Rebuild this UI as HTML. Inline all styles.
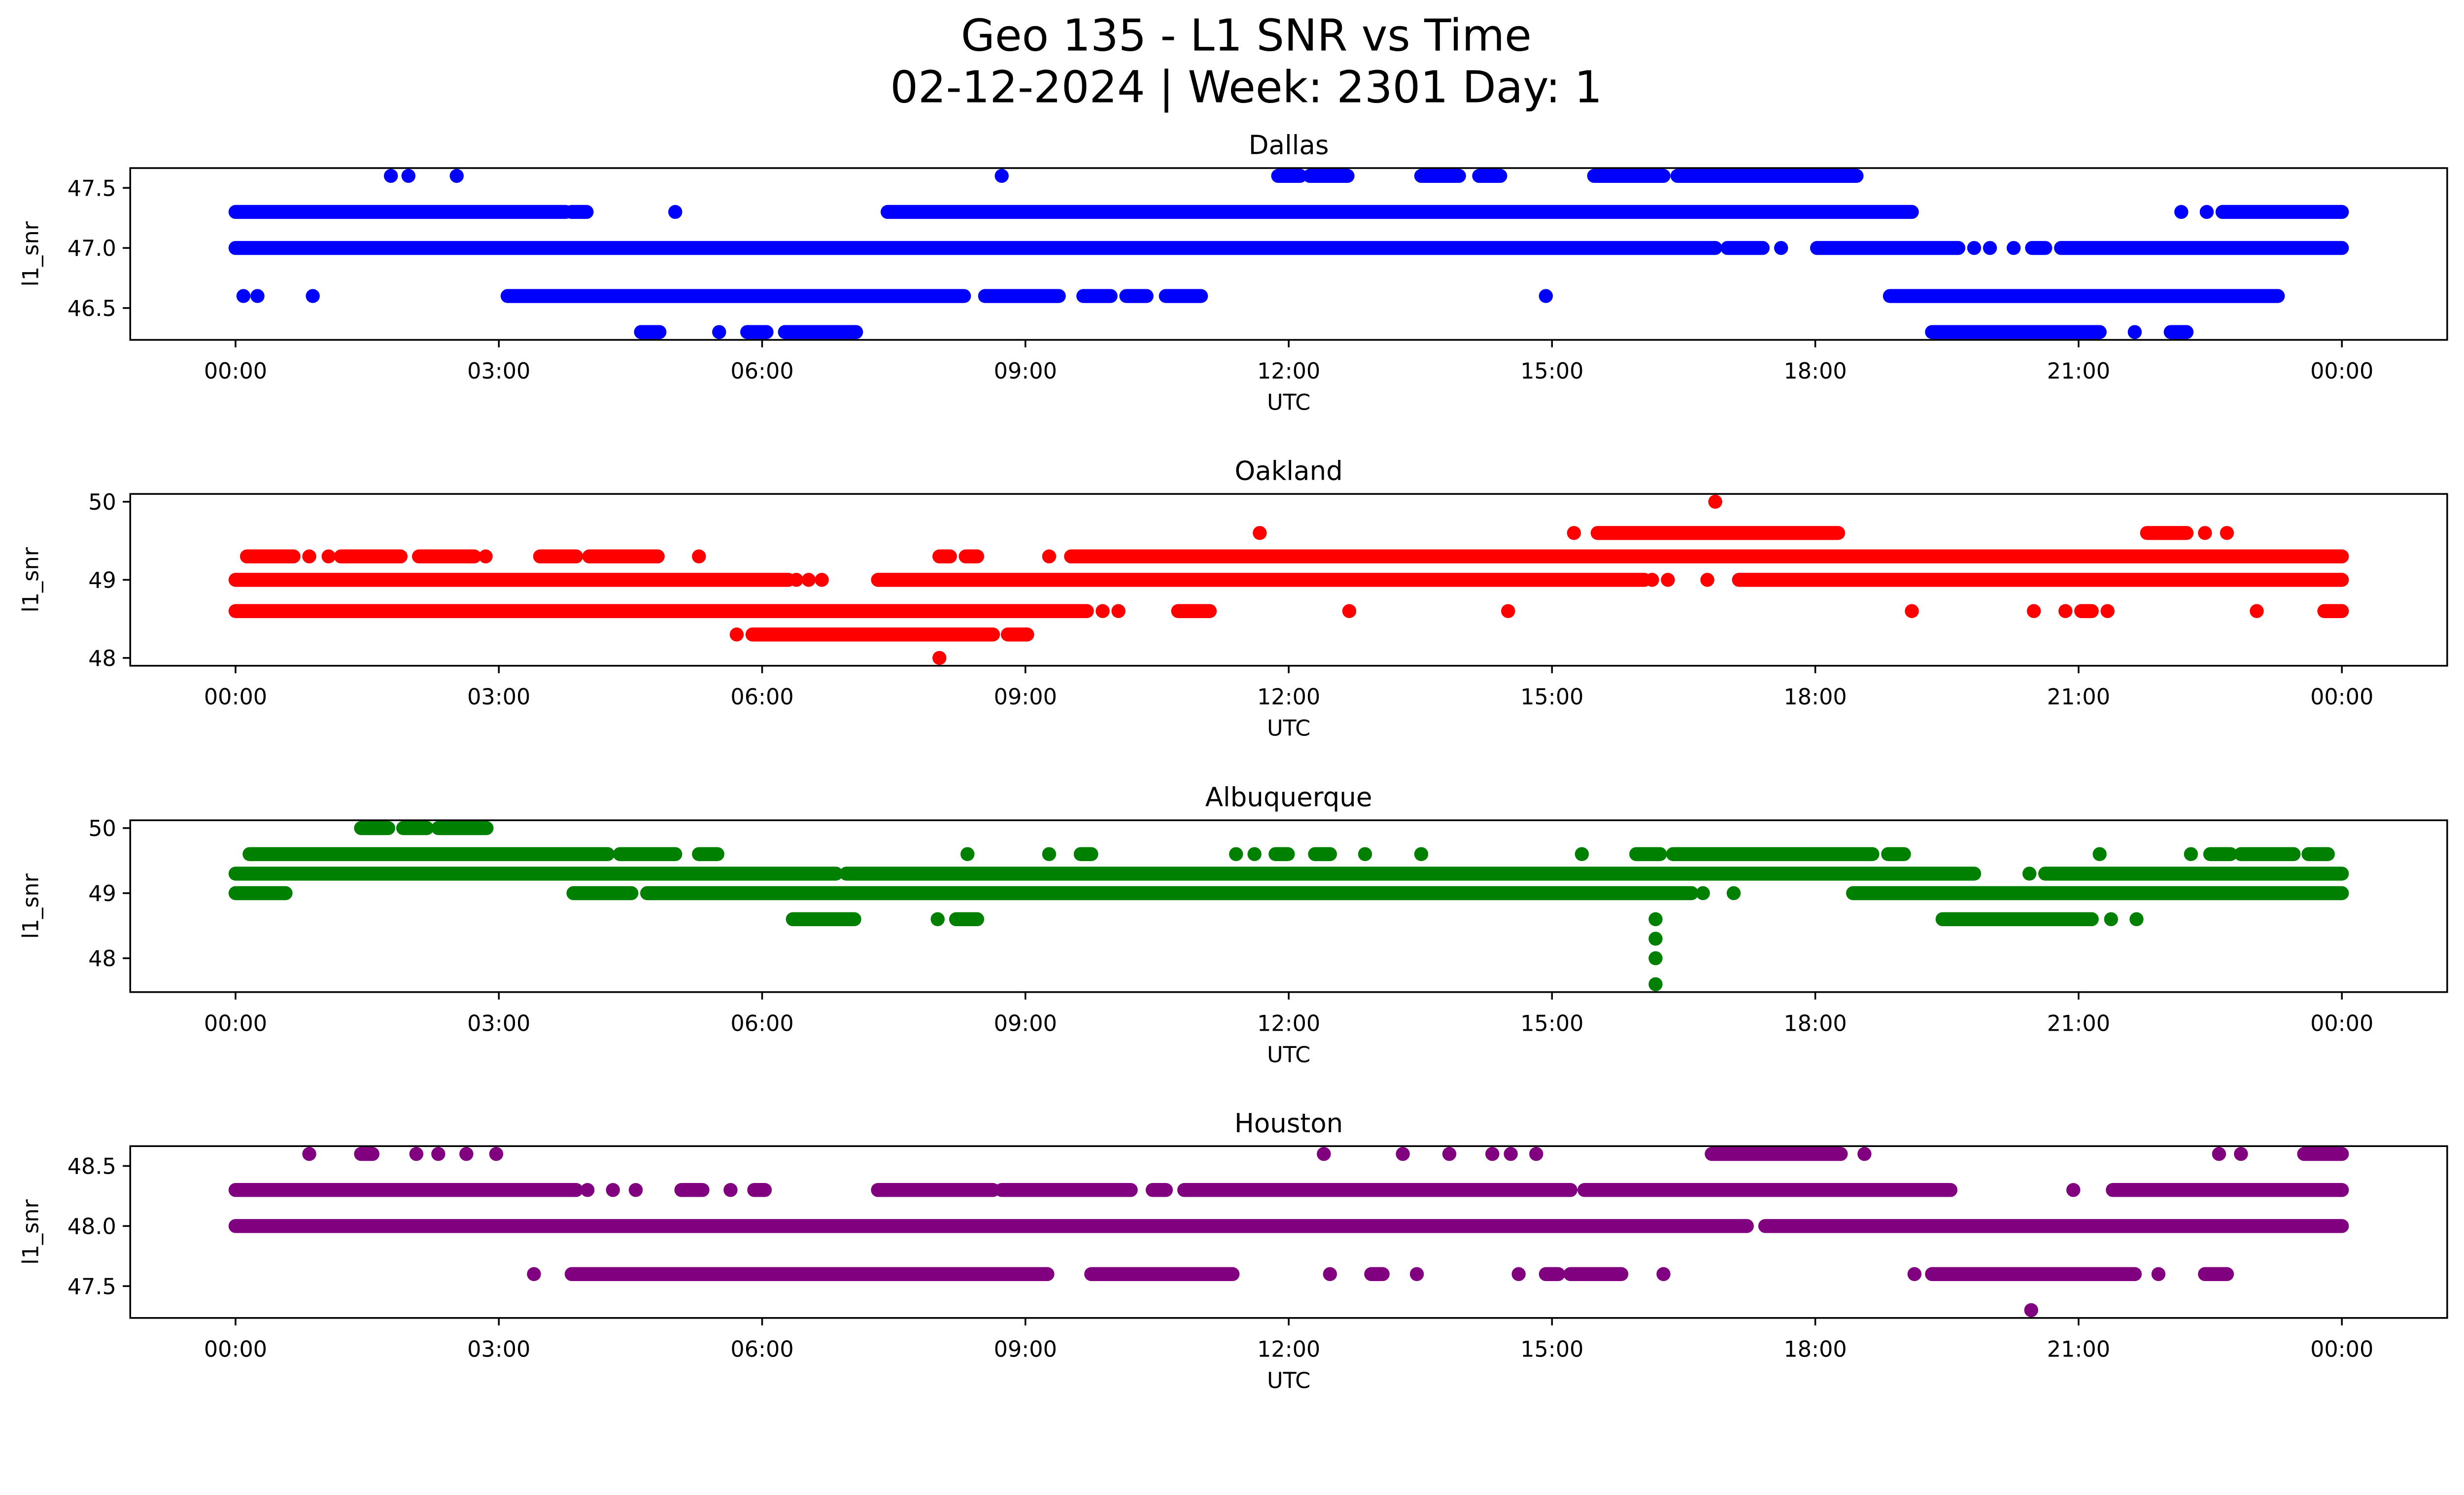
<!DOCTYPE html>
<html><head><meta charset="utf-8"><style>
html,body{margin:0;padding:0;background:#fff;overflow:hidden;}
svg{display:block;width:100vw;height:calc(100vw * 3033 / 5279);font-family:"DejaVu Sans","Liberation Sans",sans-serif;}
</style></head><body>
<svg id="fig" viewBox="0 0 5279 3033" preserveAspectRatio="none" xmlns="http://www.w3.org/2000/svg">
<rect width="5279" height="3033" fill="#fff"/>
<text x="2670" y="108" font-size="94" text-anchor="middle">Geo 135 - L1 SNR vs Time</text>
<text x="2670" y="219" font-size="94" text-anchor="middle">02-12-2024 | Week: 2301 Day: 1</text>
</svg>
<script>
// Data: runs are [level, startHour, endHour]; single points have start == end
const stations = ["Dallas","Oakland","Albuquerque","Houston"];
const colors = ["#0000ff","#ff0000","#008000","#800080"];
const yTicksDallas = [46.5,47.0,47.5];
const yTicksOakland = [48,49,50];
const yTicksAlbuquerque = [48,49,50];
const yTicksHouston = [47.5,48.0,48.5];
const yTickLabelsDallas = ["46.5","47.0","47.5"];
const yTickLabelsOakland = ["48","49","50"];
const yTickLabelsAlbuquerque = ["48","49","50"];
const yTickLabelsHouston = ["47.5","48.0","48.5"];
const xTicks = [0,3,6,9,12,15,18,21,24];
const xTickLabels = ["00:00","03:00","06:00","09:00","12:00","15:00","18:00","21:00","00:00"];
const runsDallas = [
[47.6,1.77,1.77],[47.6,1.97,1.97],[47.6,2.52,2.52],[47.6,8.73,8.73],[47.6,11.88,12.13],[47.6,12.24,12.67],[47.6,13.51,13.94],[47.6,14.17,14.41],[47.6,15.48,16.27],[47.6,16.43,18.47],
[47.3,0,3.76],[47.3,3.83,4.0],[47.3,5.01,5.01],[47.3,7.43,19.1],[47.3,22.17,22.17],[47.3,22.46,22.46],[47.3,22.64,24],
[47.0,0,16.86],[47.0,17.0,17.4],[47.0,17.61,17.61],[47.0,18.02,19.63],[47.0,19.81,19.81],[47.0,19.99,19.99],[47.0,20.26,20.26],[47.0,20.47,20.62],[47.0,20.8,24],
[46.6,0.09,0.09],[46.6,0.25,0.25],[46.6,0.88,0.88],[46.6,3.1,8.3],[46.6,8.54,9.38],[46.6,9.66,9.97],[46.6,10.15,10.38],[46.6,10.6,11.0],[46.6,14.93,14.93],[46.6,18.85,23.27],
[46.3,4.62,4.83],[46.3,5.51,5.51],[46.3,5.83,6.05],[46.3,6.26,7.07],[46.3,19.33,21.24],[46.3,21.64,21.64],[46.3,22.05,22.23]];
const runsOakland = [
[50.0,16.86,16.86],
[49.6,11.67,11.67],[49.6,15.25,15.25],[49.6,15.52,18.26],[49.6,21.78,22.23],[49.6,22.44,22.44],[49.6,22.69,22.69],
[49.3,0.13,0.66],[49.3,0.84,0.84],[49.3,1.06,1.06],[49.3,1.2,1.88],[49.3,2.09,2.72],[49.3,2.85,2.85],[49.3,3.47,3.88],[49.3,4.03,4.81],[49.3,5.28,5.28],[49.3,8.02,8.14],[49.3,8.32,8.45],[49.3,9.27,9.27],[49.3,9.52,24],
[49.0,0,6.3],[49.0,6.39,6.39],[49.0,6.53,6.53],[49.0,6.68,6.68],[49.0,7.32,16.05],[49.0,16.14,16.14],[49.0,16.32,16.32],[49.0,16.77,16.77],[49.0,17.13,24],
[48.6,0,9.7],[48.6,9.88,9.88],[48.6,10.06,10.06],[48.6,10.74,11.1],[48.6,12.69,12.69],[48.6,14.5,14.5],[48.6,19.1,19.1],[48.6,20.49,20.49],[48.6,20.85,20.85],[48.6,21.03,21.15],[48.6,21.33,21.33],[48.6,23.03,23.03],[48.6,23.8,24],
[48.3,5.71,5.71],[48.3,5.89,8.63],[48.3,8.8,9.02],
[48.0,8.02,8.02]];
const runsAlbuquerque = [
[50.0,1.43,1.74],[50.0,1.91,2.18],[50.0,2.31,2.86],
[49.6,0.16,4.24],[49.6,4.38,5.01],[49.6,5.28,5.49],[49.6,8.34,8.34],[49.6,9.27,9.27],[49.6,9.63,9.75],[49.6,11.4,11.4],[49.6,11.61,11.61],[49.6,11.85,11.99],[49.6,12.3,12.47],[49.6,12.87,12.87],[49.6,13.51,13.51],[49.6,15.34,15.34],[49.6,15.96,16.23],[49.6,16.38,18.65],[49.6,18.83,19.01],[49.6,21.24,21.24],[49.6,22.28,22.28],[49.6,22.5,22.73],[49.6,22.85,23.45],[49.6,23.62,23.84],
[49.3,0,6.84],[49.3,6.96,19.81],[49.3,20.44,20.44],[49.3,20.62,24],
[49.0,0,0.57],[49.0,3.85,4.51],[49.0,4.69,16.59],[49.0,16.72,16.72],[49.0,17.07,17.07],[49.0,18.43,24],
[48.6,6.35,7.05],[48.6,8.0,8.0],[48.6,8.21,8.45],[48.6,16.18,16.18],[48.6,19.45,21.15],[48.6,21.37,21.37],[48.6,21.66,21.66],
[48.3,16.18,16.18],[48.0,16.18,16.18],[47.6,16.18,16.18]];
const runsHouston = [
[48.6,0.84,0.84],[48.6,1.43,1.56],[48.6,2.06,2.06],[48.6,2.31,2.31],[48.6,2.63,2.63],[48.6,2.97,2.97],[48.6,12.4,12.4],[48.6,13.3,13.3],[48.6,13.83,13.83],[48.6,14.32,14.32],[48.6,14.53,14.53],[48.6,14.82,14.82],[48.6,16.82,18.29],[48.6,18.56,18.56],[48.6,22.6,22.6],[48.6,22.85,22.85],[48.6,23.57,24],
[48.3,0,3.88],[48.3,4.01,4.01],[48.3,4.3,4.3],[48.3,4.56,4.56],[48.3,5.08,5.32],[48.3,5.64,5.64],[48.3,5.91,6.03],[48.3,7.32,8.63],[48.3,8.73,10.2],[48.3,10.45,10.6],[48.3,10.81,15.21],[48.3,15.37,19.54],[48.3,20.94,20.94],[48.3,21.39,24],
[48.0,0,17.22],[48.0,17.43,24],
[47.6,3.4,3.4],[47.6,3.83,9.25],[47.6,9.75,11.36],[47.6,12.47,12.47],[47.6,12.94,13.07],[47.6,13.46,13.46],[47.6,14.62,14.62],[47.6,14.93,15.07],[47.6,15.21,15.79],[47.6,16.27,16.27],[47.6,19.13,19.13],[47.6,19.33,21.64],[47.6,21.91,21.91],[47.6,22.44,22.69],
[47.3,20.46,20.46]];
const allRuns = [runsDallas,runsOakland,runsAlbuquerque,runsHouston];
const allYTicks = [yTicksDallas,yTicksOakland,yTicksAlbuquerque,yTicksHouston];
const allYTickLabels = [yTickLabelsDallas,yTickLabelsOakland,yTickLabelsAlbuquerque,yTickLabelsHouston];

const NS="http://www.w3.org/2000/svg";
const svg=document.getElementById('fig');
function mk(tag,attrs,parent){const e=document.createElementNS(NS,tag);for(const k in attrs)e.setAttribute(k,attrs[k]);(parent||svg).appendChild(e);return e;}
const L=279,R=5243,H=368,tops=[360,1058,1757,2455];
const x0=-1.2,x1=25.2;
function xs(h){return L+(h-x0)/(x1-x0)*(R-L);}
allRuns.forEach((runs,i)=>{
  const top=tops[i],bot=top+H;
  let mn=Infinity,mx=-Infinity;runs.forEach(r=>{mn=Math.min(mn,r[0]);mx=Math.max(mx,r[0]);});
  const pad=(mx-mn)*0.05,y0=mn-pad,y1=mx+pad;
  const ys=v=>bot-(v-y0)/(y1-y0)*H;
  const g=mk('g',{});
  
  
  const cp=mk('clipPath',{id:'c'+i},g);mk('rect',{x:L,y:top,width:R-L,height:H},cp);
  const pg=mk('g',{'clip-path':'url(#c'+i+')'},g);
  runs.forEach(r=>{
    const ln=mk('line',{x1:xs(r[1]),x2:xs(r[2]),y1:ys(r[0]),y2:ys(r[0]),stroke:colors[i],'stroke-width':30,'stroke-linecap':'round'},pg);
    
    
  });
  const fr=mk('rect',{x:L,y:top,width:R-L,height:H,fill:'none',stroke:'#000','stroke-width':3.7},g);
  
  
  xTicks.forEach((t,k)=>{
    const x=xs(t);
    mk('line',{x1:x,x2:x,y1:bot,y2:bot+16,stroke:'#000','stroke-width':3.7},g);
    const tx=mk('text',{x:x,y:bot+83,'font-size':47,'text-anchor':'middle'},g);
    tx.textContent=xTickLabels[k];
    
    
  });
  allYTicks[i].forEach((t,k)=>{
    const y=ys(t);
    mk('line',{x1:L-16,x2:L,y1:y,y2:y,stroke:'#000','stroke-width':3.7},g);
    const tx=mk('text',{x:L-30,y:y+17,'font-size':47,'text-anchor':'end'},g);
    tx.textContent=allYTickLabels[i][k];
    
    
  });
  const tt=mk('text',{x:(L+R)/2,y:top-30,'font-size':56,'text-anchor':'middle'},g);
  tt.textContent=stations[i];
  
  
  const xl=mk('text',{x:(L+R)/2,y:bot+150,'font-size':47,'text-anchor':'middle'},g);
  xl.textContent='UTC';
  
  
  const yl=mk('text',{x:0,y:0,'font-size':47,'text-anchor':'middle',transform:'translate(82,'+(top+H/2)+') rotate(-90)'},g);
  yl.textContent='l1_snr';
  
  
});
</script>
</body></html>
